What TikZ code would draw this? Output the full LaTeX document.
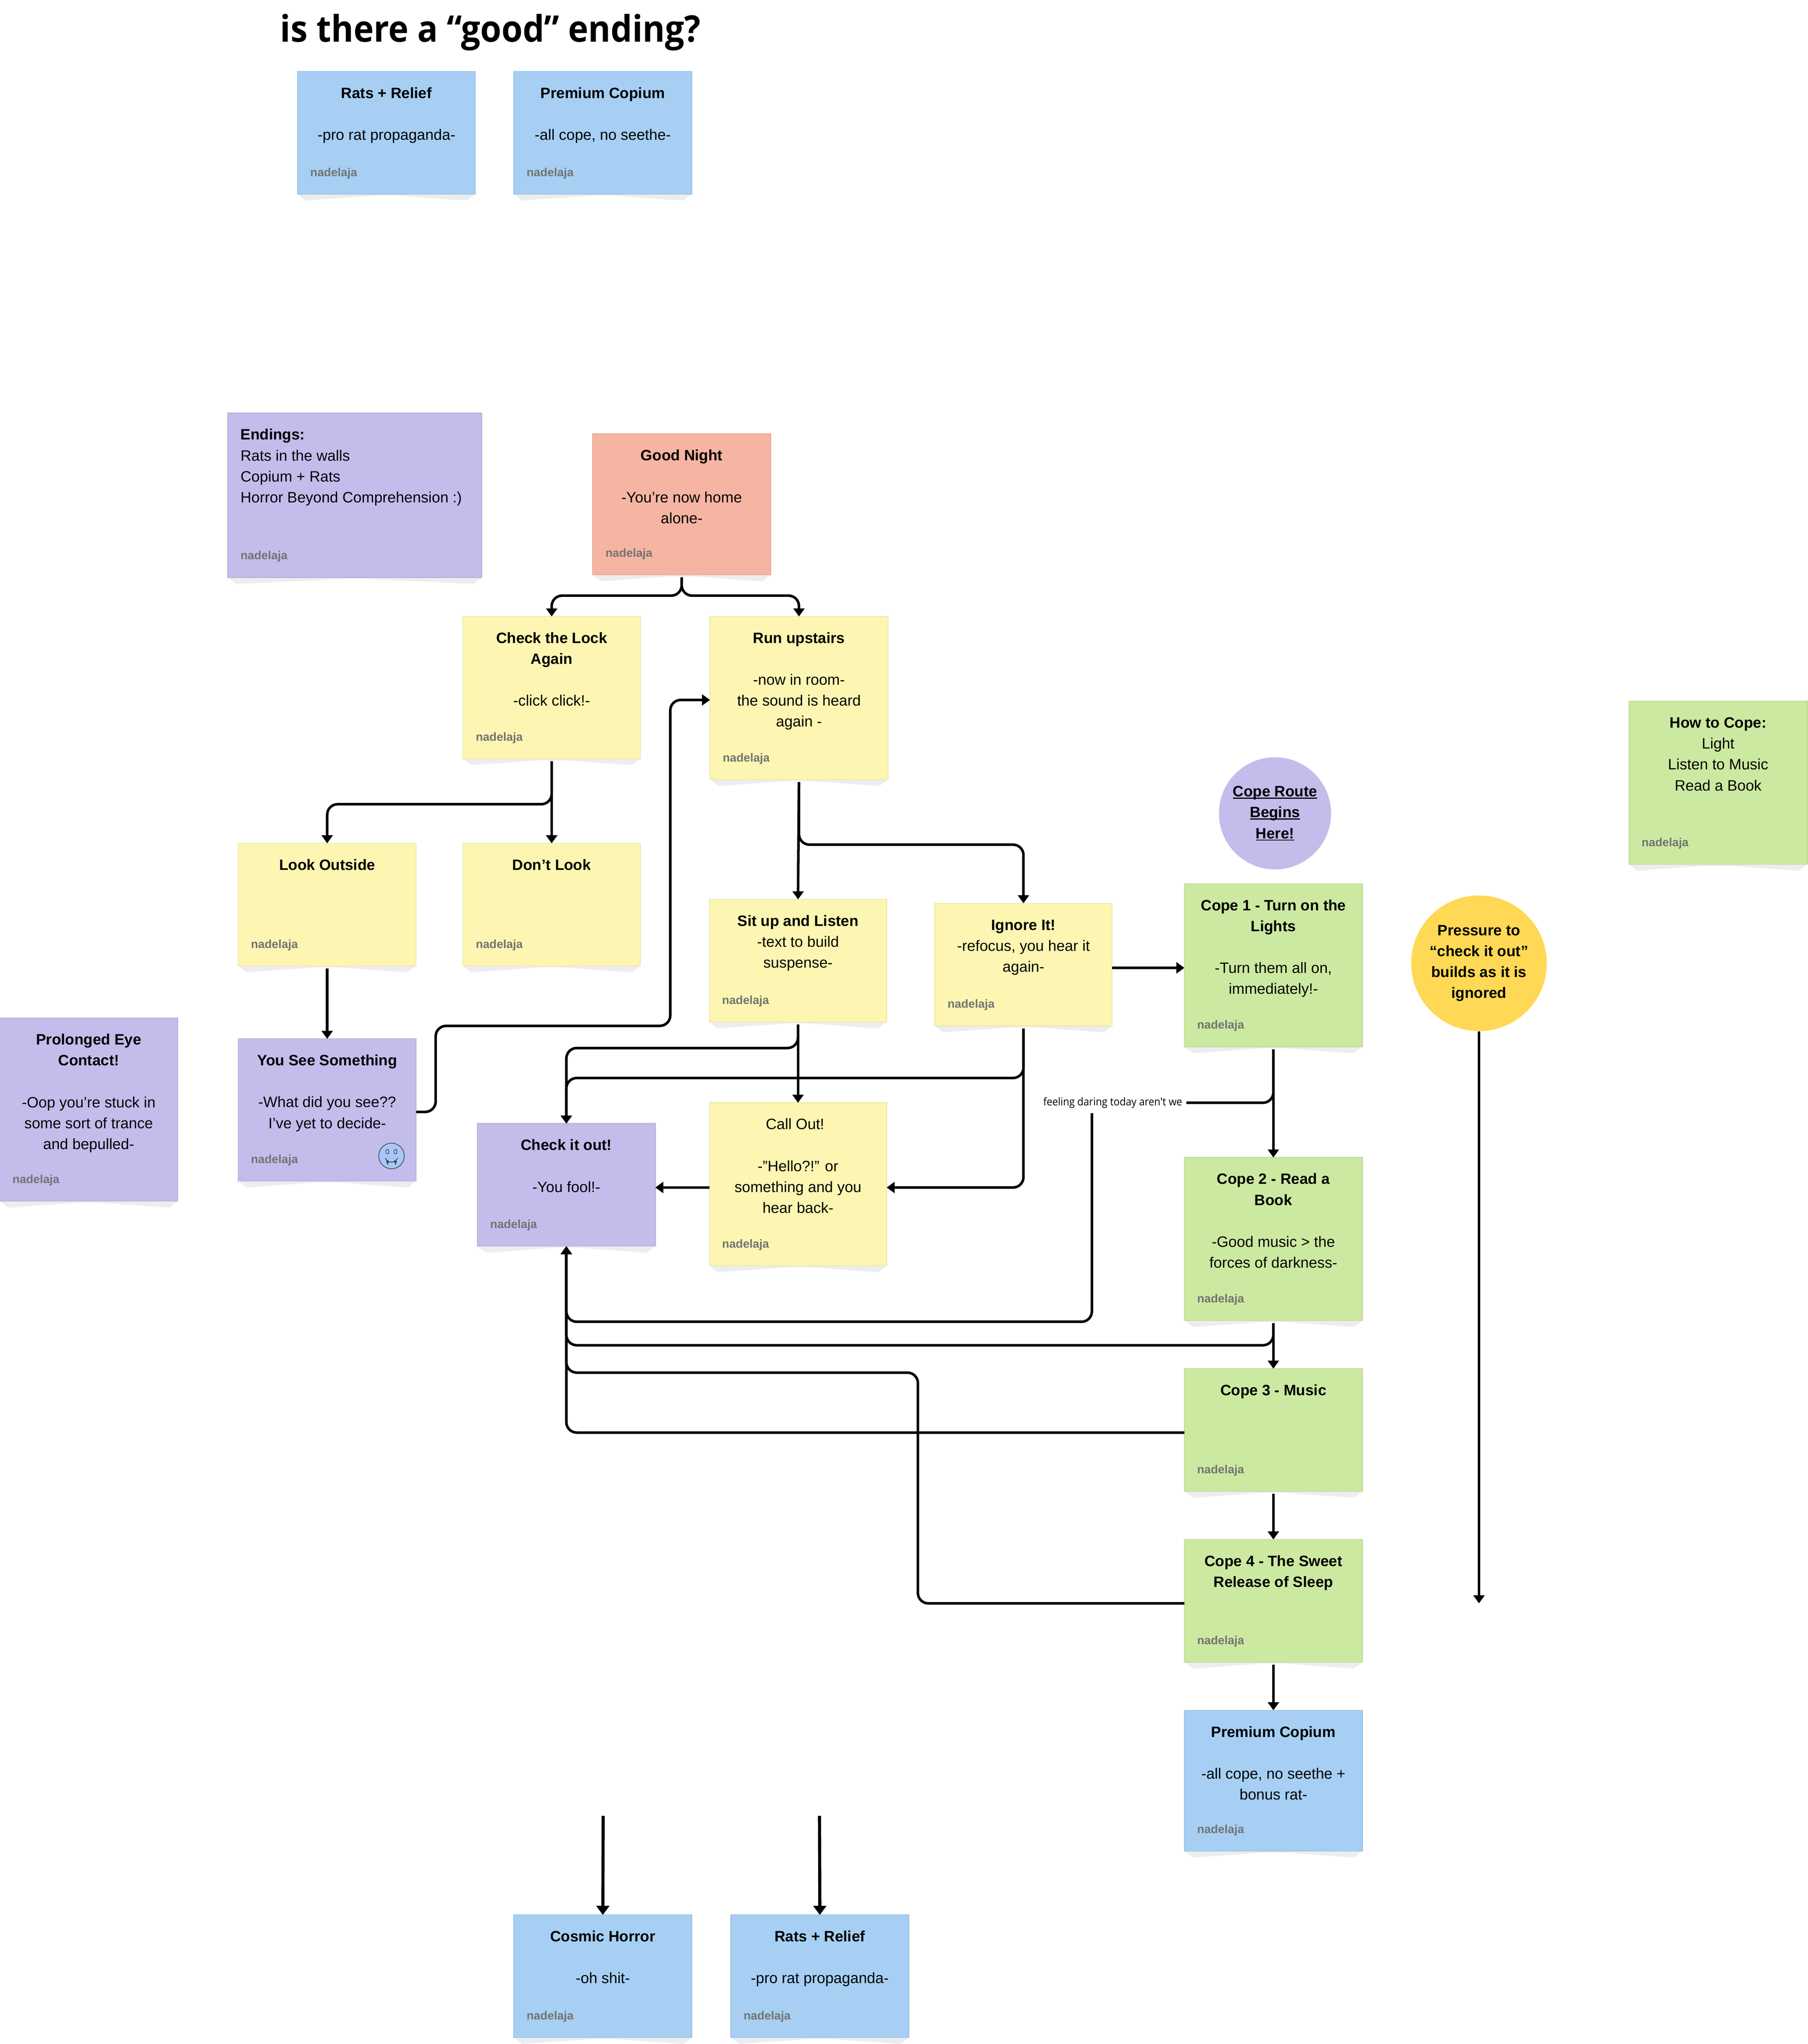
\documentclass[tikz,border=0pt]{standalone}
\usepackage{fontspec}
\setmainfont{Liberation Sans}
\newfontfamily\headfont[FakeStretch=0.93]{Open Sans}
\usetikzlibrary{arrows.meta,calc,fit}
\definecolor{noteblue}{HTML}{A6CFF3}
\definecolor{notepurple}{HTML}{C3BDEC}
\definecolor{notesalmon}{HTML}{F5B5A2}
\definecolor{noteyellow}{HTML}{FDF6B2}
\definecolor{notegreen}{HTML}{CCE9A1}
\definecolor{noteshade}{HTML}{ECEDEF}
\definecolor{sun}{HTML}{FFD955}
\definecolor{fangface}{HTML}{A8C6FB}
\tikzset{
	note/.style={inner sep=0pt,outer sep=0pt,line width=0.5pt},
	notetext/.style={inner sep=0pt,align=center,font=\fontsize{8.2}{11.4}\selectfont},
	sign/.style={inner sep=0pt,anchor=west,text=black!55,font=\fontsize{6.4}{8}\selectfont\bfseries},
	conn/.style={->,line width=1.4pt,rounded corners=0.2cm,line join=round},
	gap/.style={shorten <=0.05cm},
}
\newcommand{\sticky}[7]{
	\fill[noteshade] (#3,#6)--({#3+6.5},{#6+5})--({(#3+#5)/2-9},{#6+1.2})--({(#3+#5)/2+9},{#6+1.2})--({#5-6.5},{#6+5})--(#5,#6)--cycle;
	\node[note,fill=#2,draw=#2!95!black,fit={(#3,#4) (#5,#6)}] (#1box) {};
	\node[notetext,anchor=north] (#1txt) at ({(#3+#5)/2},{#4+9}) {\strut #7};
	\node[sign] (#1sig) at ({#3+9.5},{#6-16}) {nadelaja};
}
\newcommand{\lowline}[1]{\setbox0\hbox{#1}\rlap{\rule[-1.1pt]{\wd0}{0.55pt}}\box0}
\begin{document}
\begin{tikzpicture}[x=0.025cm,y=-0.025cm,>={Triangle[width=6pt,length=4.4pt]}]
	\useasboundingbox (0.2,0.1) rectangle (1387.2,1568);
	\node[inner sep=0pt,anchor=west,font=\headfont\fontsize{20}{24}\selectfont\bfseries] (title) at (215,25) {is there a “good” ending?};

	\sticky{rt}{noteblue}{228.5}{55}{365}{149}{\textbf{Rats + Relief}\\[11.4pt]-pro rat propaganda-}
	\sticky{pt}{noteblue}{394.5}{55}{531}{149}{\textbf{Premium Copium}\\[11.4pt]-all cope, no seethe-}
	\sticky{en}{notepurple}{175}{317}{370}{443}{}
	\node[notetext,align=left,anchor=north west] (entxt2) at (184.5,326) {\strut\textbf{Endings:}\\Rats in the walls\\Copium + Rats\\Horror Beyond Comprehension :)};
	\sticky{gn}{notesalmon}{455}{333}{591.5}{441}{\textbf{Good Night}\\[11.4pt]-You’re now home\\alone-}
	\sticky{cl}{noteyellow}{355.5}{473}{491.5}{582}{\textbf{Check the Lock}\\\textbf{Again}\\[11.4pt]-click click!-}
	\sticky{ru}{noteyellow}{545}{473}{681.5}{598}{\textbf{Run upstairs}\\[11.4pt]-now in room-\\the sound is heard\\again -}
	\sticky{lo}{noteyellow}{183}{647}{319.5}{741}{\textbf{Look Outside}}
	\sticky{dl}{noteyellow}{355.5}{647}{491.5}{741}{\textbf{Don’t Look}}
	\sticky{si}{noteyellow}{544.5}{690}{680.5}{784}{\textbf{Sit up and Listen}\\-text to build\\suspense-}
	\sticky{ig}{noteyellow}{717.5}{693}{853.5}{787}{\textbf{Ignore It!}\\-refocus, you hear it\\again-}
	\sticky{co}{noteyellow}{544.5}{846}{680.5}{971}{Call Out!\hbox to 3.2pt{}\\[11.4pt]-”Hello?!” or\\something and you\\hear back-}
	\sticky{pe}{notepurple}{0}{781}{136.5}{921.5}{\textbf{Prolonged Eye}\\\textbf{Contact!}\\[11.4pt]-Oop you’re stuck in\\some sort of trance\\and bepulled-}
	\sticky{ys}{notepurple}{183}{797}{319.5}{906}{\textbf{You See Something}\\[11.4pt]-What did you see??\\I’ve yet to decide-}
	\sticky{ch}{notepurple}{366.5}{862}{503}{956}{\textbf{Check it out!}\\[11.4pt]-You fool!-}
	\sticky{ca}{notegreen}{909}{678}{1045.5}{803}{\textbf{Cope 1 - Turn on the}\\\textbf{Lights}\\[11.4pt]-Turn them all on,\\immediately!-}
	\sticky{cb}{notegreen}{909}{888}{1045.5}{1013}{\textbf{Cope 2 - Read a}\\\textbf{Book}\\[11.4pt]-Good music > the\\forces of darkness-}
	\sticky{cc}{notegreen}{909}{1050}{1045.5}{1144}{\textbf{Cope 3 - Music}}
	\sticky{cd}{notegreen}{909}{1181}{1045.5}{1275}{\textbf{Cope 4 - The Sweet}\\\textbf{Release of Sleep}}
	\sticky{ht}{notegreen}{1250}{538}{1387}{663}{\textbf{How to Cope:}\\Light\\Listen to Music\\Read a Book}
	\sticky{pb}{noteblue}{909}{1312}{1045.5}{1420}{\textbf{Premium Copium}\\[11.4pt]-all cope, no seethe +\\bonus rat-}
	\sticky{ho}{noteblue}{394.5}{1469}{531}{1563}{\textbf{Cosmic Horror}\\[11.4pt]-oh shit-}
	\sticky{rb}{noteblue}{561}{1469}{697.5}{1563}{\textbf{Rats + Relief}\\[11.4pt]-pro rat propaganda-}

	\node[circle,fill=notepurple,inner sep=0pt,minimum size=2.15cm,notetext,font=\fontsize{8.2}{11.4}\selectfont\bfseries] (route) at (978.5,624) {\lowline{Cope Route}\\\lowline{Begins}\\\lowline{Here!}};
	\node[circle,fill=sun,inner sep=0pt,minimum size=2.6cm,notetext,font=\fontsize{8.2}{11.4}\selectfont\bfseries] (press) at (1135,739) {Pressure to\\“check it out”\\builds as it is\\ignored};
	\node[inner sep=0pt,font=\headfont\fontsize{5.9}{7}\selectfont] (dare) at (854,846) {feeling daring today aren't we};

	\draw[fill=fangface,draw=black!70,line width=0.4pt] (300.6,886.8) circle (9.8);
	\foreach \x in {297.5,303.7}\draw[black!70,line width=0.35pt] (\x,883.5) ellipse (1.2 and 1.8);
	\draw[black!75,line width=0.4pt] (295.8,888.5) .. controls (298,892.5) and (303,892.5) .. (305.4,888.5);
	\foreach \x in {297.6,303.6}\fill[black!75] (\x-1.2,890.2)--(\x+1.2,890.8)--(\x,893.8)--cycle;

	\coordinate (dareout) at (838,854);
	\coordinate (pressend) at (1135,1230);
	\coordinate (hostart) at (463,1393);
	\coordinate (rbstart) at (629,1393);

	\foreach \a/\b in {cl/dl,lo/ys,ru/si,si/co,ca/cb,cb/cc,cc/cd,cd/pb}\draw[conn,gap] (\a box.south)--(\b box.north);
	\draw[conn,gap] (gnbox.south)--++(0,16)-|(clbox.north);
	\draw[conn,gap] (gnbox.south)--++(0,16)-|(rubox.north);
	\draw[conn,gap] (clbox.south)--++(0,35)-|(lobox.north);
	\draw[conn] ($(ysbox.east)+(0,1.5)$)--++(15,0)--++(0,-66)--++(180,0)|-($(rubox.west)+(0,1.5)$);
	\draw[conn,gap] (rubox.south)--++(0,50)-|(igbox.north);
	\draw[conn,gap] (sibox.south)--++(0,20)-|(chbox.north);
	\draw[conn,gap] (igbox.south)--++(0,40)-|(chbox.north);
	\draw[conn,gap] (igbox.south)|-($(cobox.east)+(0,2.5)$);
	\draw[conn] ($(cobox.west)+(0,2.5)$)--($(chbox.east)+(0,2)$);
	\draw[conn] ($(igbox.east)+(0,2.5)$)--($(cabox.west)+(0,2)$);
	\draw[line width=1.4pt,rounded corners=0.2cm,gap] (cabox.south)|-($(dare.east)+(3,0)$);
	\draw[conn] (dareout)--++(0,160)-|(chbox.south);
	\draw[conn,gap] (cbbox.south)--++(0,19)-|(chbox.south);
	\draw[conn] ($(ccbox.west)+(0,2)$)-|(chbox.south);
	\draw[conn] ($(cdbox.west)+(0,2)$)--++(-204.5,0)--++(0,-177)-|(chbox.south);
	\draw[conn] (press.south)--(pressend);
	\draw[conn,line width=1.7pt,>={Triangle[width=7pt,length=5pt]}] (hostart)--(hobox.north);
	\draw[conn,line width=1.7pt,>={Triangle[width=7pt,length=5pt]}] (rbstart)--(rbbox.north);
\end{tikzpicture}
\end{document}
